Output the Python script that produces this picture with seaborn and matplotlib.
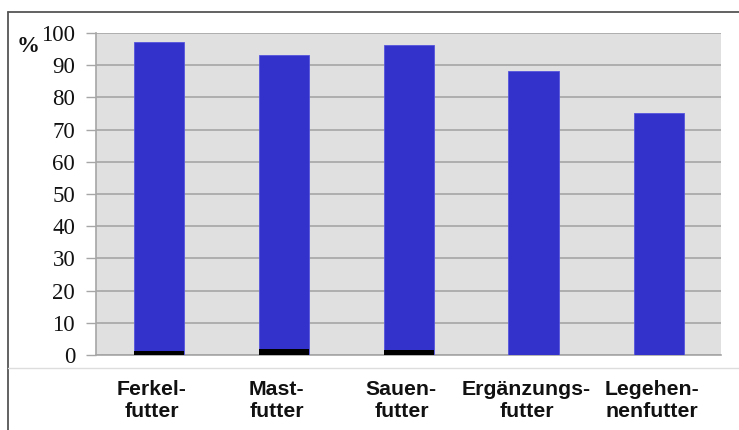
import matplotlib
matplotlib.use("Agg")
import matplotlib.pyplot as plt
import matplotlib.transforms as mtransforms
import seaborn as sns
import pandas as pd
from matplotlib.lines import Line2D

categories = ["Ferkel-\nfutter", "Mast-\nfutter", "Sauen-\nfutter", "Ergänzungs-\nfutter", "Legehen-\nnenfutter"]
blue_values = [96.0, 91.2, 94.6, 88.3, 75.3]
black_values = [1.2, 2.0, 1.7, 0.0, 0.0]
y_ticks = [0, 10, 20, 30, 40, 50, 60, 70, 80, 90, 100]

df = pd.DataFrame({"cat": categories, "blue": blue_values, "black": black_values})
df["total"] = df["blue"] + df["black"]

sns.set_theme(style="white")
fig = plt.figure(figsize=(7.39, 4.30), dpi=100)
ax = fig.add_axes([96/739, 1-355/430, (721-96)/739, (355-33)/430])
ax.set_facecolor("#E0E0E0")

sns.barplot(data=df, x="cat", y="total", color="#3333CC", saturation=1, width=0.4,
            edgecolor="#5555DD", linewidth=0.6, ax=ax, zorder=3)
sns.barplot(data=df, x="cat", y="black", color="#000000", saturation=1, width=0.4,
            linewidth=0, ax=ax, zorder=4)

ax.set_ylim(0, 100)
ax.set_xlim(-0.5, 4.5)
ax.set_yticks(y_ticks)
ax.set_yticklabels([str(t) for t in y_ticks], fontfamily="Liberation Serif", fontsize=16.5,
                   color="#111111")
ax.yaxis.grid(True, color="#A6A6A6", linewidth=1.2, zorder=0)
ax.set_axisbelow(True)
ax.set_xlabel("")
ax.set_ylabel("")
ax.set_xticks(range(len(categories)))
ax.set_xticklabels(categories, fontfamily="Liberation Sans", fontweight="bold", fontsize=15.3,
                   linespacing=1.22, color="#111111")
ax.tick_params(axis="x", length=0, pad=18)
ax.tick_params(axis="y", length=7, width=1, color="#A6A6A6", pad=8, left=True)
shift = mtransforms.ScaledTranslation(-7/100, 0, fig.dpi_scale_trans)
for lab in ax.get_xticklabels():
    lab.set_transform(lab.get_transform() + shift)
for s in ["top", "right"]:
    ax.spines[s].set_visible(False)
ax.spines["left"].set_color("#A6A6A6")
ax.spines["left"].set_linewidth(1.2)
ax.spines["bottom"].set_color("#A6A6A6")
ax.spines["bottom"].set_linewidth(1.2)

fig.text(17/739, 1-47/430, "%", fontfamily="Liberation Serif", fontweight="bold", fontsize=16.5,
         va="center", ha="left", color="#111111")

# outer frame lines
fig.add_artist(Line2D([8/739, 1], [1-12/430, 1-12/430], color="#555555", linewidth=1.3))
fig.add_artist(Line2D([8/739, 8/739], [0, 1-12/430], color="#555555", linewidth=1.3))
fig.add_artist(Line2D([8/739, 1], [1-368/430, 1-368/430], color="#DDDDDD", linewidth=1.0))

fig.savefig("out.png", dpi=100, facecolor="white")
